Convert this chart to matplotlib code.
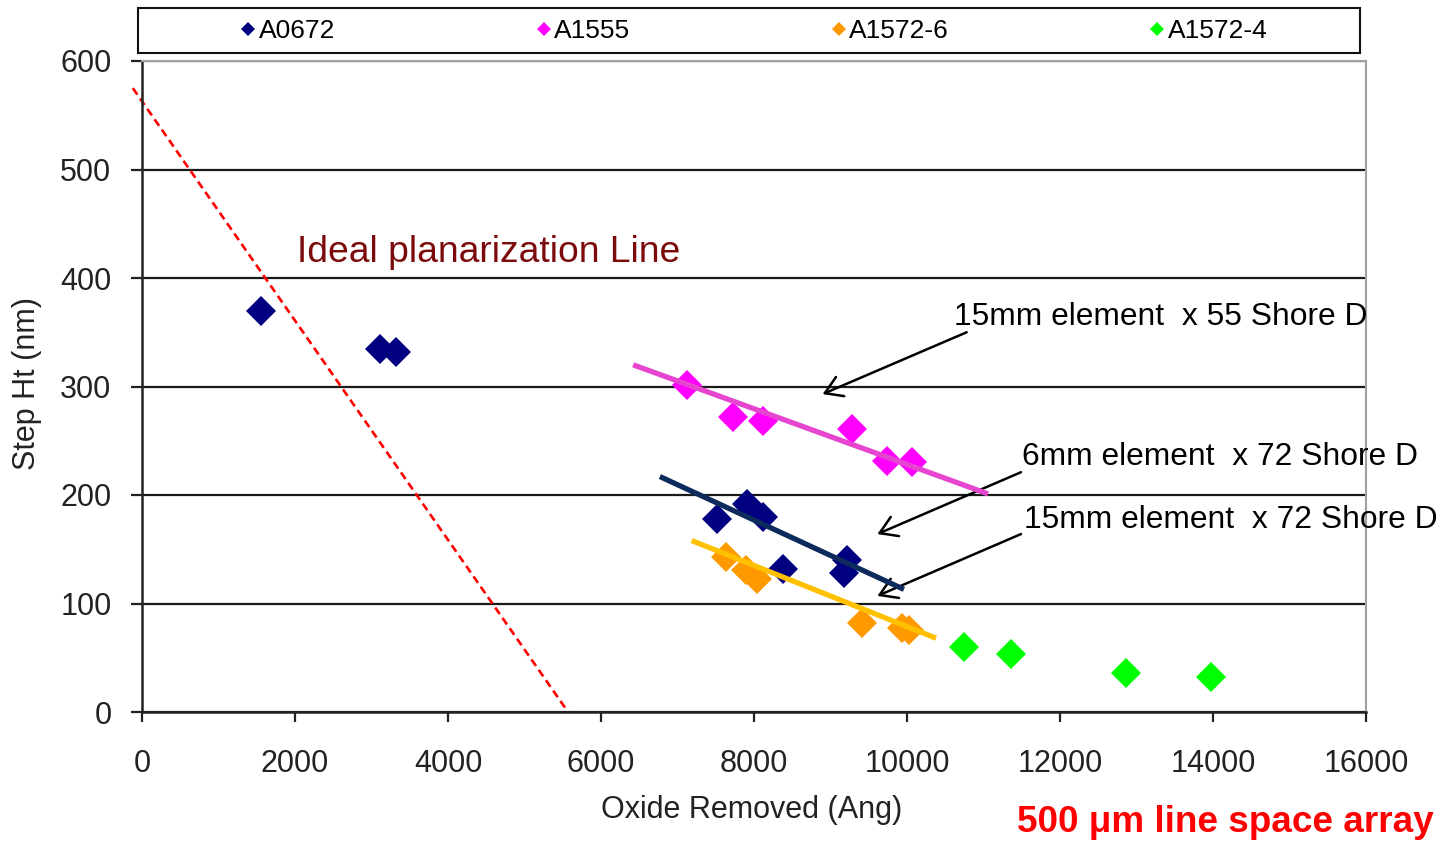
import matplotlib.pyplot as plt
from matplotlib.patches import Rectangle

plt.rcParams['font.family'] = ['Liberation Sans', 'DejaVu Sans']

# data
a0672_x = [1560, 3110, 3320, 7520, 7910, 8120, 8380, 9210, 9170]
a0672_y = [370, 335, 332, 178, 192, 180, 132, 140, 128]
a1555_x = [7130, 7730, 8120, 9280, 9740, 10060]
a1555_y = [301, 272, 268, 261, 231, 230]
a1572_6_x = [7640, 7900, 8040, 9410, 9930, 10020]
a1572_6_y = [143, 131, 123, 82, 77, 76]
a1572_4_x = [10740, 11360, 12860, 13970]
a1572_4_y = [60, 53, 36, 32]

# trend lines (end points)
fit_55_x = [6420, 11060]
fit_55_y = [320, 201]
fit_6mm_x = [6770, 9960]
fit_6mm_y = [217, 113]
fit_15mm_x = [7185, 10380]
fit_15mm_y = [158, 68]

# ideal planarization line
ideal_x = [-120, 5570]
ideal_y = [575, 0]

fig = plt.figure(figsize=(14.46, 8.42), dpi=100)
ax = fig.add_axes([142/1446, 1-712/842, 1224/1446, 651/842])

ms = 15
ax.plot(a0672_x, a0672_y, 'D', color='#000080', ms=ms, mew=0, label='A0672', zorder=3)
ax.plot(a1555_x, a1555_y, 'D', color='#FF00FF', ms=ms, mew=0, label='A1555', zorder=3)
ax.plot(a1572_6_x, a1572_6_y, 'D', color='#FF9900', ms=ms, mew=0, label='A1572-6', zorder=3)
ax.plot(a1572_4_x, a1572_4_y, 'D', color='#00FF00', ms=ms, mew=0, label='A1572-4', zorder=3)

ax.plot(fit_55_x, fit_55_y, color='#E545CF', lw=3.8, zorder=4, solid_capstyle='butt')
ax.plot(fit_6mm_x, fit_6mm_y, color='#0D2A5C', lw=3.8, zorder=4, solid_capstyle='butt')
ax.plot(fit_15mm_x, fit_15mm_y, color='#FFC000', lw=3.8, zorder=4, solid_capstyle='butt')

ax.plot(ideal_x, ideal_y, color='red', lw=1.9, ls=(0, (3, 1.8)), clip_on=False, zorder=2)

ax.set_xlim(0, 16000)
ax.set_ylim(0, 600)
ax.set_xticks(range(0, 16001, 2000))
ax.set_yticks(range(0, 601, 100))
ax.grid(axis='y', color='#1A1A1A', lw=1.6)
ax.set_axisbelow(True)

for s in ['top', 'right']:
    ax.spines[s].set_color('#A0A0A0')
    ax.spines[s].set_linewidth(1.5)
for s in ['left', 'bottom']:
    ax.spines[s].set_color('#222222')
    ax.spines[s].set_linewidth(1.8)

ax.tick_params(axis='x', direction='out', length=7, width=1.6, pad=20, labelsize=22, colors='#222222')
ax.tick_params(axis='y', direction='out', length=8, width=1.6, pad=14, labelsize=22, colors='#222222')

ax.set_xlabel('Oxide Removed (Ang)', fontsize=22, color='#222222')
ax.set_ylabel('Step Ht (nm)', fontsize=22, color='#222222')
ax.xaxis.set_label_coords(0.498, -0.128)
ax.yaxis.set_label_coords(-0.082, 0.505)

ax.text(2026, 415, 'Ideal planarization Line', fontsize=26.8, color='#7B0A0A', va='baseline')

arrow = dict(arrowstyle='->,head_length=1.2,head_width=0.75', color='black', lw=1.8,
             shrinkA=0, shrinkB=0)
ax.annotate('', xy=(8897, 293), xytext=(10780, 350), arrowprops=arrow)
ax.annotate('', xy=(9613, 164), xytext=(11490, 221), arrowprops=arrow)
ax.annotate('', xy=(9613, 107), xytext=(11490, 164), arrowprops=arrow)
ax.text(10618, 357, '15mm element  x 55 Shore D', fontsize=22.9, va='baseline', clip_on=False)
ax.text(11503, 228, '6mm element  x 72 Shore D', fontsize=22.9, va='baseline', clip_on=False)
ax.text(11529, 170, '15mm element  x 72 Shore D', fontsize=22.9, va='baseline', clip_on=False)

fig.text(1017/1446, 1-823/842, '500 \u03bcm line space array', fontsize=26.6,
         fontweight='bold', color='red', va='center')

# legend box across the top
fig.patches.append(Rectangle((138/1446, 1-53/842), 1222/1446, 45/842,
                             transform=fig.transFigure, fill=False,
                             edgecolor='#111111', lw=1.5))
handles, labels = ax.get_legend_handles_labels()
leg = fig.legend(handles, labels, loc='center', bbox_to_anchor=(754/1446, 1-31/842),
                 ncol=4, frameon=False, fontsize=19, markerscale=0.5,
                 handlelength=0.6, handletextpad=0.1, columnspacing=7.6,
                 borderpad=0)

fig.savefig('out.png', dpi=100)
